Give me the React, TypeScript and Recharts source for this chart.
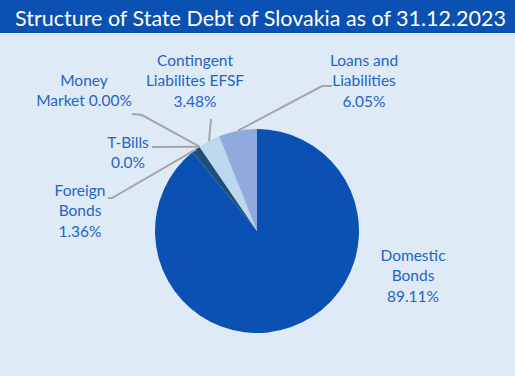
import { PieChart, Pie, Cell } from 'recharts';

const categories = [
  'Domestic Bonds',
  'Foreign Bonds',
  'T-Bills',
  'Money Market',
  'Contingent Liabilites EFSF',
  'Loans and Liabilities',
];
const shares = [89.11, 1.36, 0.0, 0.0, 3.48, 6.05];
const shareLabels = ['89.11%', '1.36%', '0.0%', '0.00%', '3.48%', '6.05%'];
// how each label is broken into lines (Excel-style wrapping)
const labelLines = [
  ['Domestic', 'Bonds', '89.11%'],
  ['Foreign', 'Bonds', '1.36%'],
  ['T-Bills', '0.0%'],
  ['Money', 'Market 0.00%'],
  ['Contingent', 'Liabilites EFSF', '3.48%'],
  ['Loans and', 'Liabilities', '6.05%'],
];
const colors = ['#0b50b3', '#1f4e79', '#2f5597', '#2f5597', '#bdd7ee', '#8faadc'];

// label placement relative to pie centre: text centre, then leader-line points (null = no line)
const labelLayout = [
  { tx: 156, ty: 44, line: null },
  { tx: -177, ty: -21, line: [[-149, -33], [-145, -33]] },
  { tx: -129, ty: -79, line: [[-105, -84]] },
  { tx: -173, ty: -141, line: [[-125, -117], [-115, -116]] },
  { tx: -62, ty: -151, line: [[-46, -112]] },
  { tx: 107, ty: -151, line: [[75, -145], [65, -145]] },
];

const data = categories.map((name, i) => ({ name, value: shares[i], pct: shareLabels[i] }));

const RADIAN = Math.PI / 180;
const LINE_H = 20.5;

const renderLabel = (props: any) => {
  const { cx, cy, midAngle, outerRadius, index } = props;
  const lay = labelLayout[index];
  const lines = labelLines[index];
  const x = cx + lay.tx;
  const top = cy + lay.ty - ((lines.length - 1) * LINE_H) / 2;
  let path = '';
  if (lay.line) {
    const ex = cx + outerRadius * Math.cos(-midAngle * RADIAN);
    const ey = cy + outerRadius * Math.sin(-midAngle * RADIAN);
    const pts = lay.line.map(([dx, dy]) => `${cx + dx},${cy + dy}`);
    path = `M${pts.join(' L')} L${ex},${ey}`;
  }
  return (
    <g key={`lbl-${index}`}>
      {path && <path d={path} stroke="#a6a6a6" strokeWidth={2} fill="none" />}
      <text
        x={x}
        y={top}
        textAnchor="middle"
        dominantBaseline="central"
        fill="#2563c4"
        fontSize={15.5}
        fontFamily="Lato, 'Open Sans', sans-serif"
      >
        {lines.map((t, j) => (
          <tspan key={j} x={x} dy={j === 0 ? 0 : LINE_H}>
            {t}
          </tspan>
        ))}
      </text>
    </g>
  );
};

export default function App() {
  return (
    <div
      style={{
        position: 'absolute',
        left: 0,
        top: 0,
        width: 515,
        height: 376,
        background: '#deebf7',
        fontFamily: 'Lato, sans-serif',
      }}
    >
      <div
        style={{
          height: 33,
          background: '#0b50b3',
          color: '#ffffff',
          fontSize: 21.5,
          lineHeight: '36px',
          paddingLeft: 15,
        }}
      >
        Structure of State Debt of Slovakia as of 31.12.2023
      </div>
      <PieChart width={515} height={343} margin={{ top: 0, right: 0, bottom: 0, left: 0 }}>
        <Pie
          data={data}
          dataKey="value"
          nameKey="name"
          cx={257}
          cy={198}
          outerRadius={102}
          startAngle={90}
          endAngle={-270}
          stroke="none"
          label={renderLabel}
          labelLine={false}
          isAnimationActive={false}
        >
          {data.map((d, i) => (
            <Cell key={d.name} fill={colors[i]} />
          ))}
        </Pie>
      </PieChart>
    </div>
  );
}
